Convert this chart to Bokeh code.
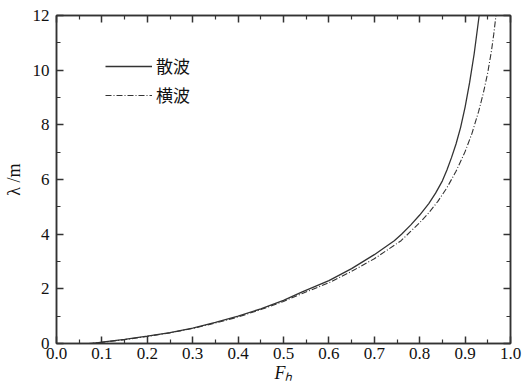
from bokeh.plotting import figure
from bokeh.models import (LinearAxis, Range1d, FixedTicker, Legend, LegendItem,
                          NumeralTickFormatter)
from bokeh.embed import file_html
from bokeh.resources import INLINE

# 散波 (solid)
fh_sanbo = [0.08, 0.10, 0.15, 0.20, 0.25, 0.30, 0.35, 0.40, 0.45, 0.50, 0.54,
            0.60, 0.65, 0.70, 0.744, 0.76, 0.78, 0.80, 0.82, 0.835, 0.85,
            0.86, 0.87, 0.88, 0.89, 0.90, 0.91, 0.92, 0.931]
lam_sanbo = [0.0, 0.05, 0.15, 0.27, 0.40, 0.56, 0.77, 1.00, 1.27, 1.58, 1.88,
             2.30, 2.74, 3.25, 3.76, 4.00, 4.33, 4.70, 5.12, 5.50, 5.95,
             6.35, 6.80, 7.30, 7.90, 8.65, 9.55, 10.60, 12.0]

# 横波 (dash-dot)
fh_hengbo = [0.07, 0.10, 0.15, 0.20, 0.25, 0.30, 0.35, 0.40, 0.45, 0.50, 0.54,
             0.60, 0.65, 0.70, 0.759, 0.78, 0.80, 0.82, 0.84, 0.86, 0.88,
             0.90, 0.915, 0.93, 0.94, 0.95, 0.958, 0.963, 0.968]
lam_hengbo = [0.0, 0.04, 0.14, 0.26, 0.39, 0.55, 0.75, 0.97, 1.24, 1.54, 1.82,
              2.22, 2.64, 3.10, 3.76, 4.10, 4.42, 4.78, 5.20, 5.70, 6.30,
              7.02, 7.68, 8.50, 9.15, 9.92, 10.70, 11.30, 12.0]

x_ticks = [0.0, 0.1, 0.2, 0.3, 0.4, 0.5, 0.6, 0.7, 0.8, 0.9, 1.0]
x_minor = [0.05, 0.15, 0.25, 0.35, 0.45, 0.55, 0.65, 0.75, 0.85, 0.95]
y_ticks = [0, 2, 4, 6, 8, 10, 12]
y_minor = [1, 3, 5, 7, 9, 11]

series_names = ["散波", "横波"]
x_label = "Fₕ"
y_label = "λ /m"

FONT = "Liberation Serif"
INK = "#333333"

p = figure(width=528, height=389, x_range=Range1d(0, 1), y_range=Range1d(0, 12),
           output_backend="svg", toolbar_location=None,
           min_border_left=54, min_border_right=18, min_border_top=15,
           min_border_bottom=46, x_axis_location=None, y_axis_location=None)
p.xgrid.visible = False
p.ygrid.visible = False
p.outline_line_color = INK
p.outline_line_width = 1.5
p.background_fill_color = "white"
p.border_fill_color = "white"


def make_axis(ticks, minor, labels=True, fmt="0.0"):
    ax = LinearAxis(ticker=FixedTicker(ticks=ticks, minor_ticks=minor))
    ax.axis_line_color = INK
    ax.axis_line_width = 1.5
    ax.major_tick_line_color = INK
    ax.major_tick_line_width = 1.5
    ax.minor_tick_line_color = INK
    ax.minor_tick_line_width = 1.2
    ax.major_tick_in = 7
    ax.major_tick_out = 0
    ax.minor_tick_in = 4
    ax.minor_tick_out = 0
    ax.major_label_text_font = FONT
    if labels:
        ax.major_label_text_color = "#111111"
        ax.major_label_text_font_size = "17px"
        ax.formatter = NumeralTickFormatter(format=fmt)
        ax.axis_label_text_font = FONT
        ax.axis_label_text_font_size = "18px"
        ax.axis_label_text_color = "#111111"
    else:
        ax.major_label_text_color = None
        ax.major_label_text_font_size = "1px"
        ax.major_label_standoff = 0
    return ax


xb = make_axis(x_ticks, x_minor, True, "0.0")
xb.major_label_standoff = 4
xb.axis_label = x_label
xb.axis_label_standoff = 1
xb.axis_label_text_font_style = "italic"
p.add_layout(xb, "below")

yl = make_axis(y_ticks, y_minor, True, "0")
yl.major_label_standoff = 7
yl.axis_label = y_label
yl.axis_label_standoff = 6
yl.axis_label_text_font_style = "normal"
p.add_layout(yl, "left")

p.add_layout(make_axis(x_ticks, x_minor, False), "above")
p.add_layout(make_axis(y_ticks, y_minor, False), "right")

r1 = p.line(fh_sanbo, lam_sanbo, line_color=INK, line_width=1.3)
r2 = p.line(fh_hengbo, lam_hengbo, line_color=INK, line_width=1.1,
            line_dash="6 2 1 2")

legend = Legend(items=[LegendItem(label=series_names[0], renderers=[r1]),
                       LegendItem(label=series_names[1], renderers=[r2])],
                location=(49, 236))
legend.border_line_color = None
legend.background_fill_alpha = 0
legend.padding = 0
legend.margin = 0
legend.spacing = 4
legend.glyph_width = 47
legend.glyph_height = 22
legend.label_height = 22
legend.label_standoff = 4
legend.label_text_font = "Noto Sans CJK SC"
legend.label_text_font_size = "17px"
legend.label_text_color = "#111111"
p.add_layout(legend, "center")

open("out.html", "w").write(file_html(p, INLINE))
